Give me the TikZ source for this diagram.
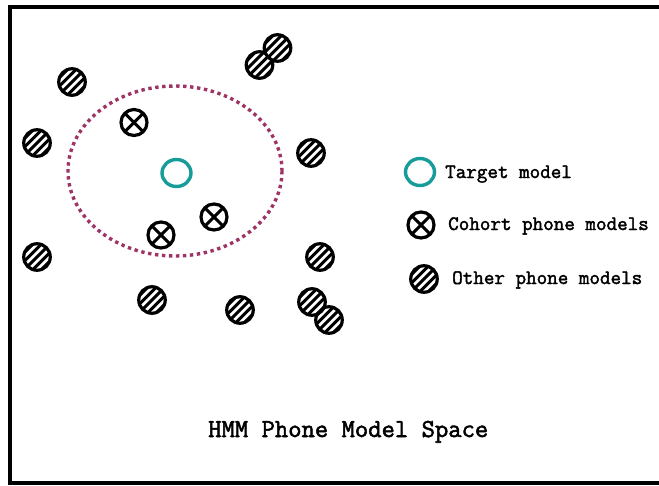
\documentclass[tikz,border=0pt]{standalone}
\usepackage{fontspec}
\newfontfamily\labelfont{Latin Modern Mono}[FakeBold=2]
\definecolor{targetteal}{HTML}{179C9A}
\definecolor{regionplum}{HTML}{9E3466}
\tikzset{
  hatched/.style={circle, draw=black, line width=3.2pt, fill=white,
    minimum size=26.5pt, inner sep=0pt,
    path picture={
      \foreach \k in {-3,...,3}
        \draw[line width=3pt, black]
          ([xshift=\k*8.5pt]path picture bounding box.center) ++(-20pt,-20pt) -- ++(40pt,40pt);
    }},
  cohort/.style={circle, draw=black, line width=3.2pt, fill=white,
    minimum size=26pt, inner sep=0pt,
    path picture={
      \draw[line width=3pt] (path picture bounding box.north west) -- (path picture bounding box.south east);
      \draw[line width=3pt] (path picture bounding box.south west) -- (path picture bounding box.north east);
    }},
  target/.style={ellipse, draw=targetteal, line width=3.4pt,
    minimum width=29pt, minimum height=27pt, inner sep=0pt},
  region/.style={draw=regionplum, line width=3.4pt, dash pattern=on 3.4pt off 3.6pt},
  legendtext/.style={anchor=base west, inner sep=0pt, font=\labelfont\fontsize{20.5}{21}\selectfont},
  titletext/.style={anchor=base west, inner sep=0pt, font=\labelfont\fontsize{25.9}{26}\selectfont},
  frame/.style={line width=4pt, black},
}
\usetikzlibrary{shapes.geometric}
\begin{document}
\begin{tikzpicture}[x=1pt, y=-1pt]
  \useasboundingbox (0,0) rectangle (659,485);
  % outer frame, open on the right
  \draw[frame] (664,7) -- (10,7) -- (10,482.5) -- (664,482.5);

  % dotted region around the target
  \draw[region] (175,171) ellipse [x radius=107, y radius=85];

  % target model
  \node[target] (t) at (176.5,173) {};

  % cohort phone models
  \node[cohort] (c1) at (134,122.5) {};
  \node[cohort] (c2) at (214,217) {};
  \node[cohort] (c3) at (161,235) {};

  % other phone models
  \node[hatched] (o1) at (72,82) {};
  \node[hatched] (o2) at (259.5,65) {};
  \node[hatched] (o3) at (277.5,48) {};
  \node[hatched] (o4) at (37,143) {};
  \node[hatched] (o5) at (311,153) {};
  \node[hatched] (o6) at (37,257) {};
  \node[hatched] (o7) at (320,257) {};
  \node[hatched] (o8) at (152,300) {};
  \node[hatched] (o9) at (240,310) {};
  \node[hatched] (o10) at (329,320) {};
  \node[hatched] (o11) at (312,302) {};

  % legend
  \node[target] (lt) at (420,172) {};
  \node[legendtext] (ltx) at (445,178) {Target model};
  \node[cohort] (lc) at (421,225) {};
  \node[legendtext] (lcx) at (448,230) {Cohort phone models};
  \node[hatched] (lo) at (424,279) {};
  \node[legendtext] (lox) at (452,284) {Other phone models};

  % caption
  \node[titletext] (cap) at (208,437) {HMM Phone Model Space};
\end{tikzpicture}
\end{document}
